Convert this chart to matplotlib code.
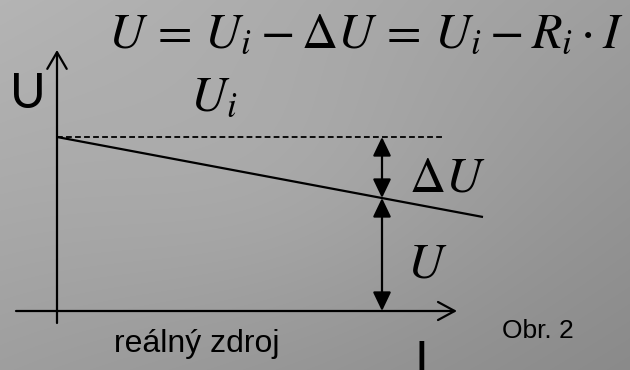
import numpy as np
import matplotlib
matplotlib.use("Agg")
import matplotlib.pyplot as plt

# ---- data (abstract units: 1 unit ~ 10 px) ----
U_i = 17.4                 # open-circuit voltage
line_I = [0.0, 42.6]       # source characteristic, current
line_U = [17.4, 9.4]       # source characteristic, voltage
I_op = 32.5                # operating current
U_op = 11.3                # terminal voltage at operating point
dash_I = [0.0, 38.6]       # dashed reference line extent
x_axis = [-4.1, 40.0]
y_axis = [-1.2, 26.1]

equation = r"$U\,=\,U_i-\Delta U\,=\,U_i-R_i\cdot I$"
lbl_U_axis = "U"
lbl_I_axis = "I"
lbl_Ui = r"$U_i$"
lbl_dU = r"$\Delta U$"
lbl_U = r"$U$"
lbl_caption = "reálný zdroj"
lbl_fig = "Obr. 2"

plt.rcParams["mathtext.fontset"] = "stix"

W, H = 630, 370
fig = plt.figure(figsize=(W / 100, H / 100), dpi=100)

# background gradient
bg = fig.add_axes([0, 0, 1, 1])
yy, xx = np.mgrid[0:H, 0:W]
u = xx / W
v = yy / H
val = (180 * (1 - u) * (1 - v) + 158 * u * (1 - v) + 158 * (1 - u) * v + 138 * u * v)
val += 8 * np.exp(-(((u - 0.45) / 0.35) ** 2 + ((v - 0.5) / 0.4) ** 2))
bg.imshow(np.dstack([val, val, val]) / 255.0, aspect="auto", extent=[0, 1, 0, 1])
bg.set_axis_off()

ax = fig.add_axes([0, 0, 1, 1])
ax.set_xlim(-5.7, 57.3)
ax.set_ylim(-5.9, 31.1)
ax.set_axis_off()
ax.patch.set_alpha(0)

k = "black"
lw = 1.6
# axes with open arrowheads
ax.annotate("", xy=(x_axis[1], 0), xytext=(x_axis[0], 0),
            arrowprops=dict(arrowstyle="->,head_length=1.2,head_width=0.65",
                            color=k, lw=lw, shrinkA=0, shrinkB=0))
ax.annotate("", xy=(0, y_axis[1]), xytext=(0, y_axis[0]),
            arrowprops=dict(arrowstyle="->,head_length=1.2,head_width=0.7",
                            color=k, lw=lw, shrinkA=0, shrinkB=0))

# dashed U_i level
ax.plot(dash_I, [U_i, U_i], color=k, lw=1.3, ls=(0, (3.2, 1.8)))
# source characteristic
ax.plot(line_I, line_U, color=k, lw=lw, solid_capstyle="butt")

# double arrows
for y0, y1 in [(U_i, U_op), (U_op, 0.0)]:
    ax.annotate("", xy=(I_op, y1), xytext=(I_op, y0),
                arrowprops=dict(arrowstyle="<|-|>,head_length=1.15,head_width=0.55",
                                color=k, lw=lw, shrinkA=0, shrinkB=0))

# texts
ax.text(5.1, 26.4, equation, fontsize=36, ha="left", va="baseline", color=k)
ax.text(-2.9, 20.3, lbl_U_axis, fontsize=35, ha="center", va="baseline",
        family="Lato", color=k)
ax.text(15.7, 20.1, lbl_Ui, fontsize=36, ha="center", va="baseline", color=k)
ax.text(39.0, 11.9, lbl_dU, fontsize=36, ha="center", va="baseline", color=k)
ax.text(37.0, 3.3, lbl_U, fontsize=36, ha="center", va="baseline", color=k)
ax.text(14.0, -4.1, lbl_caption, fontsize=23, ha="center", va="baseline",
        family=["Liberation Sans Narrow", "Liberation Sans"], color=k)
ax.text(48.1, -2.7, lbl_fig, fontsize=19, ha="center", va="baseline",
        family=["Liberation Sans Narrow", "Liberation Sans"], color=k)
ax.text(36.4, -6.5, lbl_I_axis, fontsize=35, ha="center", va="baseline",
        family="Lato", color=k)

fig.savefig("out.png", dpi=100)
